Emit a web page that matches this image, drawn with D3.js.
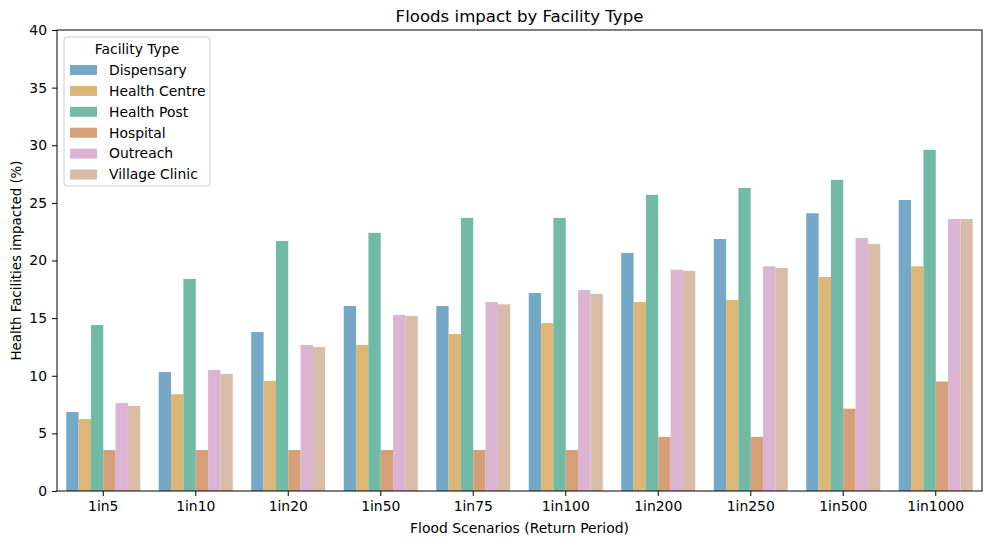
<!DOCTYPE html>
<html>
<head>
<meta charset="utf-8">
<script src="https://cdn.jsdelivr.net/npm/d3@7"></script>
<style>
  body { margin: 0; background: #fff; }
  text { font-family: "DejaVu Sans", sans-serif; fill: #000; }
</style>
</head>
<body>
<svg id="chart" width="997" height="545"></svg>
<script>
const scenarios = ["1in5", "1in10", "1in20", "1in50", "1in75", "1in100", "1in200", "1in250", "1in500", "1in1000"];
const facilityTypes = ["Dispensary", "Health Centre", "Health Post", "Hospital", "Outreach", "Village Clinic"];
const dispensary = [6.85, 10.33, 13.8, 16.05, 16.05, 17.18, 20.65, 21.87, 24.1, 25.25];
const healthCentre = [6.25, 8.4, 9.54, 12.67, 13.62, 14.57, 16.4, 16.57, 18.57, 19.5];
const healthPost = [14.4, 18.4, 21.7, 22.4, 23.7, 23.7, 25.7, 26.3, 27.0, 29.6];
const hospital = [3.56, 3.56, 3.56, 3.56, 3.56, 3.56, 4.7, 4.7, 7.14, 9.5];
const outreach = [7.64, 10.5, 12.67, 15.27, 16.4, 17.44, 19.2, 19.5, 21.95, 23.6];
const villageClinic = [7.38, 10.16, 12.5, 15.18, 16.2, 17.1, 19.1, 19.35, 21.43, 23.6];
const yTicks = [0, 5, 10, 15, 20, 25, 30, 35, 40];
const colors = ["#75a7c6", "#dcb778", "#72baa6", "#d5a077", "#dbb3d3", "#d8bca7"];

const seriesValues = [dispensary, healthCentre, healthPost, hospital, outreach, villageClinic];
const rows = [];
scenarios.forEach((s, i) => {
    facilityTypes.forEach((f, j) => rows.push({scenario: s, type: f, value: seriesValues[j][i]}));
});

const margin = {left: 57, right: 15, top: 30, bottom: 54};
const svg = d3.select("#chart");
const width = 997, height = 545;
const fs = "13.9px";

const x = d3.scaleBand()
    .domain(scenarios)
    .range([margin.left, width - margin.right])
    .paddingInner(0.2)
    .paddingOuter(0.1);
const xInner = d3.scaleBand()
    .domain(facilityTypes)
    .range([0, x.bandwidth()]);
const y = d3.scaleLinear()
    .domain([0, 40])
    .range([height - margin.bottom, margin.top]);
const color = d3.scaleOrdinal().domain(facilityTypes).range(colors);

svg.append("g").selectAll("rect")
    .data(rows).enter()
    .append("rect")
        .attr("x", d => x(d.scenario) + xInner(d.type))
        .attr("y", d => y(d.value))
        .attr("width", xInner.bandwidth())
        .attr("height", d => y(0) - y(d.value))
        .attr("fill", d => color(d.type));

// frame
svg.append("rect")
    .attr("x", margin.left)
    .attr("y", margin.top)
    .attr("width", width - margin.right - margin.left)
    .attr("height", height - margin.bottom - margin.top)
    .attr("fill", "none")
    .attr("stroke", "#000")
    .attr("stroke-width", 1);

const xAxis = svg.append("g")
    .attr("transform", `translate(0,${height - margin.bottom})`)
    .call(d3.axisBottom(x).tickSize(5).tickPadding(5));
xAxis.select(".domain").remove();
xAxis.selectAll("text").style("font-size", fs).style("font-family", "DejaVu Sans");

const yAxis = svg.append("g")
    .attr("transform", `translate(${margin.left},0)`)
    .call(d3.axisLeft(y).tickValues(yTicks).tickSize(5).tickPadding(5));
yAxis.select(".domain").remove();
yAxis.selectAll("text").style("font-size", fs).style("font-family", "DejaVu Sans");

svg.append("text")
    .attr("x", (margin.left + width - margin.right) / 2)
    .attr("y", 22)
    .attr("text-anchor", "middle")
    .style("font-size", "16.6px")
    .text("Floods impact by Facility Type");

svg.append("text")
    .attr("x", (margin.left + width - margin.right) / 2)
    .attr("y", 533)
    .attr("text-anchor", "middle")
    .style("font-size", fs)
    .text("Flood Scenarios (Return Period)");

svg.append("text")
    .attr("transform", `translate(21,${(margin.top + height - margin.bottom) / 2}) rotate(-90)`)
    .attr("text-anchor", "middle")
    .style("font-size", "13.4px")
    .text("Health Facilities impacted (%)");

// legend
const legend = svg.append("g").attr("transform", "translate(64,37)");
legend.append("rect")
    .attr("width", 146)
    .attr("height", 149)
    .attr("rx", 3)
    .attr("fill", "#fff")
    .attr("fill-opacity", 0.8)
    .attr("stroke", "#ccc");
legend.append("text")
    .attr("x", 73)
    .attr("y", 17)
    .attr("text-anchor", "middle")
    .style("font-size", fs)
    .text("Facility Type");
const items = legend.selectAll(".item")
    .data(facilityTypes).enter()
    .append("g")
        .attr("transform", (d, i) => `translate(6,${33 + i * 20.9})`);
items.append("rect")
    .attr("width", 27)
    .attr("height", 10)
    .attr("y", -5)
    .attr("fill", d => color(d));
items.append("text")
    .attr("x", 39)
    .attr("dy", "0.35em")
    .style("font-size", fs)
    .text(d => d);
</script>
</body>
</html>
